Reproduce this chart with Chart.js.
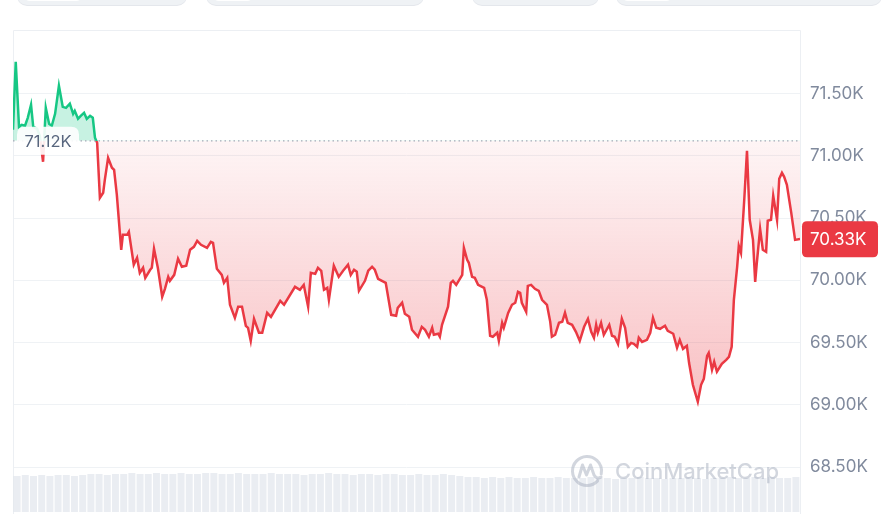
<!DOCTYPE html>
<html>
<head>
<meta charset="utf-8">
<script src="https://cdn.jsdelivr.net/npm/chart.js@4.4.1/dist/chart.umd.min.js"></script>
<style>
  html, body { margin: 0; padding: 0; background: #fff; }
  #wrap { position: relative; width: 885px; height: 514px; overflow: hidden; }
  canvas { position: absolute; left: 0; top: 0; }
  .pill { position: absolute; top: -20px; height: 25px; background: #eff2f5; border-radius: 0 0 10px 10px; box-shadow: 0 1px 0 #e4e7ec; }
  .pill i { position: absolute; top: 0; height: 21px; background: #fff; border-radius: 0 0 7px 7px; }
</style>
</head>
<body>
<div id="wrap">
  <canvas id="chart" width="885" height="514"></canvas>
  <div class="pill" style="left:17px;width:170px"><i style="left:6px;width:60px"></i></div>
  <div class="pill" style="left:206px;width:218px"><i style="left:6px;width:42px"></i></div>
  <div class="pill" style="left:472px;width:127px"></div>
  <div class="pill" style="left:616px;width:266px"><i style="left:5px;width:52px"></i></div>
</div>
<script>
// minutes since the start of the 24h window
var times = [0,5,11,16,22,27,33,37,44,49,55,60,66,71,77,84,91,97,104,110,
  113,119,124,130,135,141,146,150,154,159,165,168,174,181,185,190,198,201,209,212,
  221,227,232,238,242,251,254,258,265,273,278,284,287,295,302,309,317,324,331,337,
  344,355,362,366,373,382,386,392,397,406,412,419,426,430,435,441,450,456,465,472,
  489,496,516,525,532,540,545,553,558,564,569,575,578,587,596,604,613,618,624,629,
  633,644,650,657,662,668,682,692,701,704,712,717,725,730,741,748,754,761,767,770,
  778,781,785,796,801,805,811,822,825,831,834,840,845,851,862,867,873,878,886,889,
  895,898,906,913,919,924,928,931,939,942,948,955,962,968,977,983,986,992,999,1005,
  1010,1015,1023,1030,1037,1045,1052,1058,1063,1067,1070,1076,1081,1091,1096,1101,1107,1114,1120,1125,
  1131,1136,1142,1145,1151,1160,1166,1171,1177,1184,1193,1198,1208,1215,1220,1226,1233,1237,1244,1253,
  1259,1264,1270,1273,1279,1283,1288,1297,1305,1310,1315,1319,1325,1328,1332,1338,1343,1348,1354,1358,
  1361,1367,1372,1378,1381,1387,1391,1398,1402,1407,1411,1416,1424,1431,1440];

var prices = [71209,71755,71233,71249,71241,71305,71410,71233,71217,71161,
  70952,71385,71257,71241,71337,71562,71393,71385,71418,71337,
  71361,71297,71321,71345,71297,71321,71305,71145,71104,70663,
  70703,70807,70984,70904,70888,70687,70245,70366,70366,70390,
  70125,70181,70060,70101,70020,70085,70101,70253,70101,69868,
  69932,70028,69996,70044,70173,70109,70117,70245,70269,70317,
  70285,70261,70309,70301,70093,70044,69980,70020,69804,69699,
  69788,69788,69635,69619,69514,69691,69579,69579,69739,69707,
  69836,69804,69948,69924,69964,69788,70060,70052,70101,70077,
  69924,69940,69844,70117,70028,70077,70125,70044,70085,70069,
  69916,69996,70077,70109,70085,70012,69980,69723,69715,69779,
  69820,69731,69707,69603,69547,69627,69603,69547,69619,69563,
  69571,69547,69643,69788,69980,69996,69964,70044,70261,70165,
  70141,70028,70020,69964,69940,69844,69555,69547,69579,69514,
  69659,69619,69739,69804,69820,69908,69900,69820,69747,69956,
  69964,69932,69916,69844,69804,69667,69547,69563,69659,69667,
  69739,69659,69643,69587,69514,69627,69691,69587,69539,69643,
  69579,69659,69563,69643,69555,69547,69490,69691,69619,69466,
  69498,69490,69466,69539,69506,69522,69579,69699,69619,69611,
  69635,69595,69571,69458,69522,69450,69474,69338,69161,69025,
  69161,69209,69394,69418,69282,69346,69266,69330,69362,69386,
  69466,69844,70109,70277,70221,70647,71040,70486,70325,69988,
  70141,70414,70245,70229,70478,70486,70679,70486,70815,70863,
  70831,70767,70542,70325,70333];

// volume per 15 minute bucket (relative units)
var volumes = [36,37,36,37,36,37,37,36,37,38, 38,37,38,38,39,38,38,39,38,38,
  39,38,38,39,39,38,38,39,38,38, 38,39,38,38,38,37,38,38,39,38,
  38,37,38,38,37,38,38,37,37,38, 37,37,38,37,36,35,35,34,35,34,
  35,34,34,35,34,34,35,34,34,34, 35,34,34,33,34,34,35,34,34,33,
  34,34,35,34,33,34,34,35,34,34, 35,34,35,34,34,35];

var yTicks = [68500, 69000, 69500, 70000, 70500, 71000, 71500];
var basePrice = 71120;
var lastPrice = 70330;

var GREEN = '#16c784';
var RED = '#ea3943';

function fmtK(v) {
    return (v / 1000).toFixed(2) + 'K';
}

var priceData = [];
for (var i = 0; i < times.length; i++) {
    priceData.push({x: times[i], y: prices[i]});
}
var volData = [];
for (var j = 0; j < volumes.length; j++) {
    volData.push({x: j * 15 + 7.5, y: volumes[j]});
}

function lineGradient(context) {
    var chart = context.chart;
    var area = chart.chartArea;
    if (!area) return RED;
    var yb = chart.scales.y.getPixelForValue(basePrice);
    var f = (yb - area.top) / (area.bottom - area.top);
    var g = chart.ctx.createLinearGradient(0, area.top, 0, area.bottom);
    g.addColorStop(0, GREEN);
    g.addColorStop(f, GREEN);
    g.addColorStop(f, RED);
    g.addColorStop(1, RED);
    return g;
}

function redFill(context) {
    var chart = context.chart;
    var area = chart.chartArea;
    if (!area) return 'rgba(234,57,67,0.12)';
    var y = chart.scales.y;
    var g = chart.ctx.createLinearGradient(0, y.getPixelForValue(basePrice), 0, y.getPixelForValue(69000));
    g.addColorStop(0, 'rgba(234,57,67,0.05)');
    g.addColorStop(1, 'rgba(234,57,67,0.32)');
    return g;
}

function roundRect(ctx, x, y, w, h, r) {
    ctx.beginPath();
    ctx.moveTo(x + r, y);
    ctx.lineTo(x + w - r, y);
    ctx.quadraticCurveTo(x + w, y, x + w, y + r);
    ctx.lineTo(x + w, y + h - r);
    ctx.quadraticCurveTo(x + w, y + h, x + w - r, y + h);
    ctx.lineTo(x + r, y + h);
    ctx.quadraticCurveTo(x, y + h, x, y + h - r);
    ctx.lineTo(x, y + r);
    ctx.quadraticCurveTo(x, y, x + r, y);
    ctx.closePath();
}

var decorations = {
    id: 'decorations',
    beforeDatasetsDraw: function (chart) {
        var ctx = chart.ctx, a = chart.chartArea;
        ctx.save();
        ctx.strokeStyle = '#eceff3';
        ctx.lineWidth = 1;
        ctx.beginPath();
        ctx.moveTo(a.left + 0.5, chart.height);
        ctx.lineTo(a.left + 0.5, a.top + 0.5);
        ctx.lineTo(a.right + 0.5, a.top + 0.5);
        ctx.lineTo(a.right + 0.5, chart.height);
        ctx.stroke();
        ctx.restore();
    },
    afterDraw: function (chart) {
        var ctx = chart.ctx, a = chart.chartArea, y = chart.scales.y;
        ctx.save();

        // watermark
        var cx = a.right - 213, cy = a.bottom - 41;
        ctx.strokeStyle = 'rgba(165,173,189,0.5)';
        ctx.fillStyle = 'rgba(165,173,189,0.5)';
        ctx.lineWidth = 3;
        ctx.lineCap = 'round';
        ctx.lineJoin = 'round';
        ctx.beginPath();
        ctx.arc(cx, cy, 14.5, 0.75, 0.75 + Math.PI * 2 - 0.55);
        ctx.stroke();
        ctx.beginPath();
        ctx.moveTo(cx - 8, cy + 6);
        ctx.lineTo(cx - 4.5, cy - 6);
        ctx.lineTo(cx - 0.5, cy + 4);
        ctx.lineTo(cx + 3.5, cy - 6);
        ctx.lineTo(cx + 7, cy + 4);
        ctx.quadraticCurveTo(cx + 10, cy + 9, cx + 14, cy + 6);
        ctx.stroke();
        ctx.font = '500 22px Inter';
        ctx.textBaseline = 'middle';
        ctx.textAlign = 'left';
        ctx.fillText('CoinMarketCap', cx + 28, cy + 1);

        // baseline price label
        var yb = y.getPixelForValue(basePrice);
        ctx.fillStyle = 'rgba(255,255,255,0.9)';
        roundRect(ctx, a.left + 4, yb - 14, 62, 28, 8);
        ctx.fill();
        ctx.fillStyle = '#58667e';
        ctx.font = '16.5px Inter';
        ctx.textAlign = 'center';
        ctx.fillText(fmtK(basePrice), a.left + 35, yb + 1);

        // last price tag
        var yl = y.getPixelForValue(lastPrice);
        ctx.fillStyle = RED;
        roundRect(ctx, a.right + 2, yl - 18, 76, 36, 5);
        ctx.fill();
        ctx.fillStyle = '#fff';
        ctx.font = '17px Inter';
        ctx.textAlign = 'left';
        ctx.fillText(fmtK(lastPrice), a.right + 10, yl + 1);
        ctx.restore();
    }
};

var ctx = document.getElementById('chart').getContext('2d');
var chart = new Chart(ctx, {
    type: 'line',
    data: {
        datasets: [{
            label: 'Baseline',
            data: [{x: 0, y: basePrice}, {x: 1440, y: basePrice}],
            borderColor: '#a3aab7',
            borderWidth: 1.2,
            borderDash: [1.5, 3],
            pointRadius: 0,
            fill: false,
            order: 0
        }, {
            label: 'Price',
            data: priceData,
            borderColor: lineGradient,
            backgroundColor: redFill,
            borderWidth: 2.5,
            pointRadius: 0,
            tension: 0,
            fill: {value: basePrice, above: 'rgba(22,199,132,0.24)'},
            order: 1
        }, {
            type: 'bar',
            label: 'Volume',
            data: volData,
            yAxisID: 'yv',
            backgroundColor: 'rgba(200,207,222,0.38)',
            barPercentage: 0.85,
            categoryPercentage: 1,
            order: 3
        }]
    },
    options: {
        responsive: false,
        animation: false,
        devicePixelRatio: 1,
        layout: {padding: {left: 13, top: 30, right: 0, bottom: 2}},
        plugins: {legend: {display: false}, tooltip: {enabled: false}},
        scales: {
            x: {type: 'linear', min: 0, max: 1440, display: false, offset: false, grid: {offset: false}},
            y: {
                position: 'right',
                min: 68140,
                max: 72010,
                afterBuildTicks: function (axis) {
                    axis.ticks = yTicks.map(function (v) { return {value: v}; });
                },
                afterFit: function (axis) {
                    axis.width = 85;
                    axis.paddingTop = 0;
                    axis.paddingBottom = 0;
                },
                ticks: {
                    color: '#808a9d',
                    padding: 10,
                    font: {family: 'Inter', size: 17},
                    callback: function (v) { return fmtK(v); }
                },
                grid: {color: '#eff2f5', drawTicks: false},
                border: {display: false}
            },
            yv: {display: false, min: 0, max: 482}
        }
    },
    plugins: [decorations]
});
</script>
</body>
</html>
